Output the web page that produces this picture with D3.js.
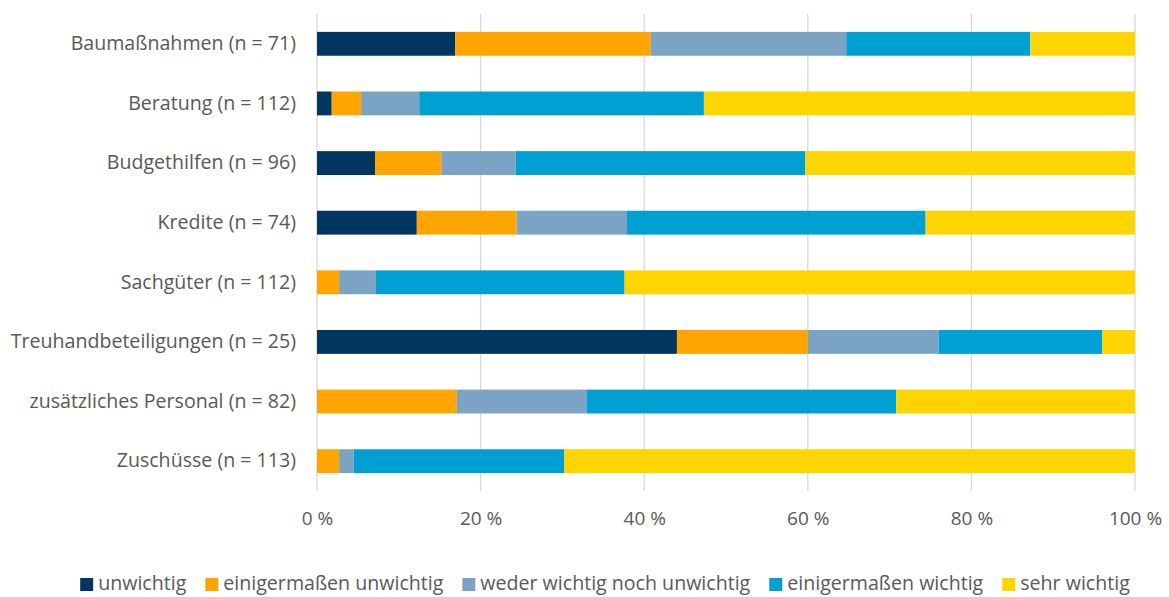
<!DOCTYPE html>
<html>
<head>
<meta charset="utf-8">
<script src="https://cdn.jsdelivr.net/npm/d3@7"></script>
<style>
  html, body { margin: 0; padding: 0; background: #ffffff; }
  svg { display: block; }
  text { font-family: "Open Sans", "Lato", sans-serif; fill: #595959; }
</style>
</head>
<body>
<svg id="chart" width="1169" height="597"></svg>
<script>
// Categories (funding instruments) with the number of answers
const categories = [
  "Baumaßnahmen (n = 71)",
  "Beratung (n = 112)",
  "Budgethilfen (n = 96)",
  "Kredite (n = 74)",
  "Sachgüter (n = 112)",
  "Treuhandbeteiligungen (n = 25)",
  "zusätzliches Personal (n = 82)",
  "Zuschüsse (n = 113)"
];

// Rating levels, in stacking order
const seriesNames = [
  "unwichtig",
  "einigermaßen unwichtig",
  "weder wichtig noch unwichtig",
  "einigermaßen wichtig",
  "sehr wichtig"
];

// Share of answers per level, in percent (same order as categories)
const unwichtig            = [16.9, 1.8, 7.1, 12.2, 0.0, 44.0, 0.0, 0.0];
const einigermUnwichtig    = [23.9, 3.6, 8.1, 12.2, 2.7, 16.0, 17.1, 2.7];
const wederNoch            = [23.9, 7.1, 9.1, 13.5, 4.5, 16.0, 15.9, 1.8];
const einigermWichtig      = [22.5, 34.8, 35.4, 36.5, 30.4, 20.0, 37.8, 25.7];
const sehrWichtig          = [12.8, 52.7, 40.3, 25.6, 62.4, 4.0, 29.2, 69.8];

const tickValues = [0, 20, 40, 60, 80, 100];
const tickLabels = ["0 %", "20 %", "40 %", "60 %", "80 %", "100 %"];

const colors = ["#003660", "#FFA400", "#7BA3C4", "#00A0D2", "#FFD500"];

// Build a table the stack generator can use
const seriesArrays = [unwichtig, einigermUnwichtig, wederNoch, einigermWichtig, sehrWichtig];
const table = categories.map((c, i) => {
  const row = { category: c };
  seriesNames.forEach((s, k) => { row[s] = seriesArrays[k][i]; });
  return row;
});

const svg = d3.select("#chart");
const margin = { left: 317, right: 34, top: 14, bottom: 106 };
const width = 1169, height = 597;
const font = "'Open Sans', Lato, sans-serif";

const x = d3.scaleLinear()
  .domain([0, 100])
  .range([margin.left, width - margin.right]);

const y = d3.scaleBand()
  .domain(categories)
  .range([margin.top, height - margin.bottom])
  .paddingInner(0.6)
  .paddingOuter(0.3);

// Vertical gridlines
svg.append("g")
  .selectAll("line")
  .data(tickValues)
  .join("line")
  .attr("x1", d => x(d))
  .attr("x2", d => x(d))
  .attr("y1", margin.top)
  .attr("y2", height - margin.bottom)
  .attr("stroke", "#d9d9d9")
  .attr("stroke-width", 1.3);

// Stacked bars
const stack = d3.stack().keys(seriesNames);
const stacked = stack(table);

svg.append("g")
  .selectAll("g")
  .data(stacked)
  .join("g")
  .attr("fill", (d, i) => colors[i])
  .selectAll("rect")
  .data(d => d)
  .join("rect")
  .attr("x", d => x(d[0]))
  .attr("width", d => x(d[1]) - x(d[0]))
  .attr("y", d => y(d.data.category))
  .attr("height", y.bandwidth());

// X axis tick labels
const xAxis = d3.axisBottom(x)
  .tickValues(tickValues)
  .tickFormat((d, i) => tickLabels[i])
  .tickSize(0)
  .tickPadding(0);

const gx = svg.append("g")
  .attr("transform", `translate(0, ${height - margin.bottom + 20})`)
  .call(xAxis);
gx.select(".domain").remove();
gx.selectAll("text")
  .attr("font-size", 19)
  .attr("fill", "#595959")
  .style("font-family", font);

// Y axis category labels
const yAxis = d3.axisLeft(y).tickSize(0).tickPadding(0);
const gy = svg.append("g")
  .attr("transform", `translate(${margin.left - 21}, 0)`)
  .call(yAxis);
gy.select(".domain").remove();
gy.selectAll("text")
  .attr("font-size", 19.6)
  .attr("fill", "#595959")
  .style("font-family", font);

// Legend, laid out from measured text widths and centred
const legend = svg.append("g").attr("transform", "translate(0, 590)");
const items = legend.selectAll("g")
  .data(seriesNames)
  .join("g");
items.append("rect")
  .attr("y", -12)
  .attr("width", 13)
  .attr("height", 13)
  .attr("fill", (d, i) => colors[i]);
items.append("text")
  .attr("x", 18)
  .attr("y", 0)
  .attr("font-size", 19.6)
  .style("font-family", font)
  .text(d => d);

let offset = 0;
const positions = [];
items.each(function () {
  const w = d3.select(this).select("text").node().getComputedTextLength();
  positions.push(offset);
  offset += 18 + w + 19;
});
const total = offset - 19;
const startX = 605 - total / 2;
items.attr("transform", (d, i) => `translate(${startX + positions[i]}, 0)`);
</script>
</body>
</html>
